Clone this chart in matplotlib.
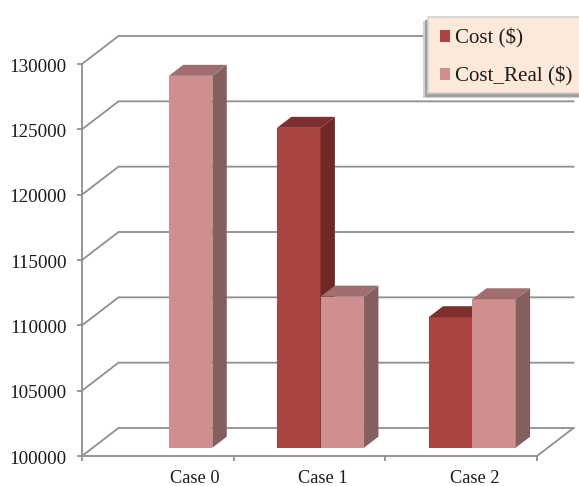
#!/usr/bin/env python3
import matplotlib
matplotlib.use("Agg")
import numpy as np
import matplotlib.pyplot as plt
from matplotlib.patches import Polygon, Rectangle
from matplotlib.transforms import Affine2D

# Data
CASES = ["Case 0", "Case 1", "Case 2"]
COST = [np.nan, 124480, 109985]
COST_REAL = [128460, 111560, 111360]
Y_TICKS = [100000, 105000, 110000, 115000, 120000, 125000, 130000]

# Style
GREY = "#8f8f8f"
TEXT = "#1c1c1c"
COST_COLORS = ("#a9443f", "#7f2f2d", "#6f2a27")        # front, top, side
REAL_COLORS = ("#cf8f8f", "#a06e6e", "#855f5e")
BAR_W = 0.287
LABEL_X = [0.745, 1.589, 2.591]

plt.rcParams["font.family"] = ["Liberation Serif", "DejaVu Serif"]

fig = plt.figure(figsize=(5.79, 4.86), dpi=100)
ax = fig.add_axes([82 / 579, 30 / 486, 455 / 579, 392 / 486])
ax.set_xlim(0, 3)
ax.set_ylim(100000, 130000)
ax.patch.set_visible(False)

# pixel sizes of the fake 3D, converted to data units for the bar faces
px_x = 3 / 455
px_y = 30000 / 392
depth_x = 14.4 * px_x
depth_y = 11 * px_y
back_dx, back_dy = 36.5 * px_x, 28 * px_y

# Walls: every gridline goes back from the axis and then across
for y in Y_TICKS:
    ax.plot([0, back_dx, 3 + back_dx], [y, y + back_dy, y + back_dy],
            color=GREY, lw=1.3, clip_on=False, zorder=1, solid_joinstyle="miter")
ax.plot([3, 3 + back_dx], [100000, 100000 + back_dy], color=GREY, lw=1.3,
        clip_on=False, zorder=1)

# Bars stand on the floor, a little behind the front edge
bar_tr = ax.transData + Affine2D().translate(11, 8.3)


def draw_bar(x, value, colors, z):
    bars = ax.bar(x, value - 100000, BAR_W, bottom=100000, align="edge",
                  color=colors[0], zorder=z, transform=bar_tr, clip_on=False)
    right = x + BAR_W
    top = Polygon([(x, value), (right, value), (right + depth_x, value + depth_y),
                   (x + depth_x, value + depth_y)],
                  closed=True, fc=colors[1], ec="none", transform=bar_tr,
                  zorder=z, clip_on=False)
    side = Polygon([(right, 100000), (right + depth_x, 100000 + depth_y),
                    (right + depth_x, value + depth_y), (right, value)],
                   closed=True, fc=colors[2], ec="none", transform=bar_tr,
                   zorder=z, clip_on=False)
    ax.add_patch(side)
    ax.add_patch(top)
    return bars


handles = {}
for i in range(len(CASES)):
    if not np.isnan(COST[i]):
        handles["cost"] = draw_bar(i + 0.5 - BAR_W, COST[i], COST_COLORS, 3)
    handles["real"] = draw_bar(i + 0.5, COST_REAL[i], REAL_COLORS, 4)

# Axes
for name in ("top", "right"):
    ax.spines[name].set_visible(False)
for name in ("left", "bottom"):
    ax.spines[name].set_color(GREY)
    ax.spines[name].set_linewidth(1.3)
ax.set_xticks([0, 1, 2, 3])
ax.set_xticklabels([])
# category names sit off the tick marks, so they go on unmarked minor ticks
ax.set_xticks(LABEL_X, CASES, minor=True)
ax.set_yticks(Y_TICKS)
ax.tick_params(axis="both", color=GREY, width=1.3, length=3.5)
ax.tick_params(axis="x", which="minor", length=0, labelsize=13.2, labelcolor=TEXT, pad=9.8)
ax.tick_params(axis="y", labelsize=13.8, labelcolor=TEXT, pad=7.5)
for lab in ax.get_yticklabels():
    lab.set_transform(lab.get_transform() + Affine2D().translate(0, -1))


# Legend box and its shadow, in figure pixels
def legend_rect(x0, y0, x1, y1, z, **kw):
    ax.add_patch(Rectangle((x0 / 579, 1 - y1 / 486), (x1 - x0) / 579, (y1 - y0) / 486,
                           transform=fig.transFigure, clip_on=False, zorder=z, **kw))


legend_rect(423, 21, 579, 98, 8, fc="#d0d0d0", ec="none")
legend_rect(424.5, 20, 579, 96.5, 8.5, fc="#a0a0a0", ec="none")
legend_rect(428, 17, 585, 93, 9, fc="#fde9d9", ec="#d4d0cc", lw=1.2)

leg = ax.legend([handles["cost"], handles["real"]], ["Cost ($)", "Cost_Real ($)"],
                loc="upper left", bbox_to_anchor=(428 / 579, 1 - 17 / 486),
                bbox_transform=fig.transFigure, borderaxespad=0, borderpad=0.55,
                fontsize=15.1, labelspacing=0.85, handlelength=0.5, handleheight=0.5,
                handletextpad=0.25, frameon=False, labelcolor=TEXT)
leg.set_zorder(10)

fig.savefig("out.png", dpi=100)
